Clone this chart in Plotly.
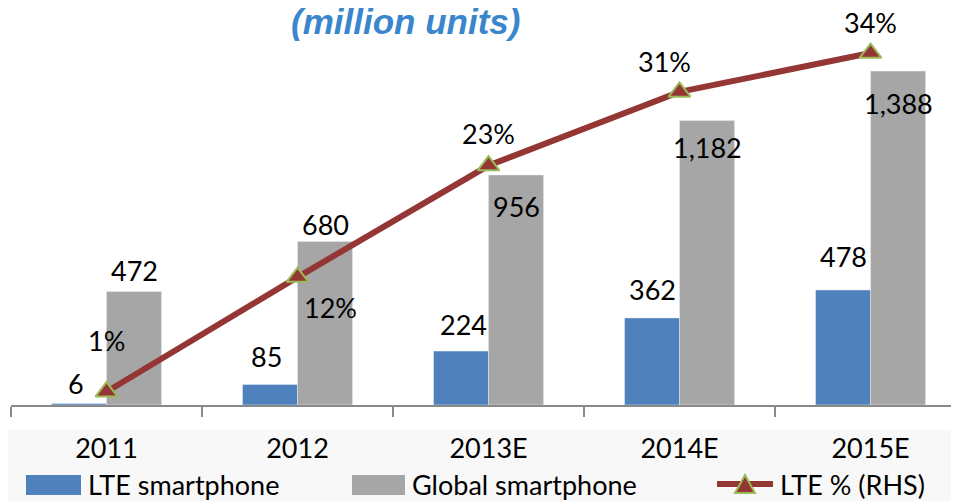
import plotly.graph_objects as go

years = ["2011", "2012", "2013E", "2014E", "2015E"]
lte_units = [6, 85, 224, 362, 478]
global_units = [472, 680, 956, 1182, 1388]
lte_share = [1.3, 12.5, 23.4, 30.6, 34.4]
lte_labels = ["6", "85", "224", "362", "478"]
global_labels = ["472", "680", "956", "1,182", "1,388"]
share_labels = ["1%", "12%", "23%", "31%", "34%"]

# label offsets in px (x, y) relative to the mark
lte_off = [(-4, 20), (-4, 28), (2, 27), (0, 28), (0, 33)]
glob_off = [(28, 21), (28, 17), (28, -32), (28, -27), (28, -32)]
share_off = [(0, 51), (33, -30), (0, 32), (-15, 30), (0, 31)]

BLUE = "#4f81bd"
GRAY = "#a6a6a6"
RED = "#943634"
GREEN = "#9bbb59"
FONT = "Lato, Carlito, Calibri, sans-serif"

# page body adds an 8px offset, so the figure is sized to the visible area
OFF = 8
W, H = 959 - OFF, 501 - OFF
ML, MB = 11 - OFF, 96
PW, PH = W - ML, H - MB


def px_x(x):
    return (x - OFF - ML) / PW


def px_y(y):
    return (PH - (y - OFF)) / PH


fig = go.Figure()
fig.add_trace(go.Bar(x=years, y=lte_units, name="LTE smartphone", marker_color=BLUE))
fig.add_trace(go.Bar(x=years, y=global_units, name="Global smartphone", marker_color=GRAY))
fig.add_trace(go.Scatter(
    x=years, y=lte_share, name="LTE % (RHS)", yaxis="y2", mode="lines+markers",
    line=dict(color=RED, width=6),
    marker=dict(symbol="triangle-up", size=19, color=RED, line=dict(color=GREEN, width=2)),
))

ann = []
for i, yr in enumerate(years):
    ann.append(dict(x=i, y=lte_units[i], text=lte_labels[i], showarrow=False,
                    yanchor="middle", xshift=-27 + lte_off[i][0], yshift=lte_off[i][1]))
    ann.append(dict(x=i, y=global_units[i], text=global_labels[i], showarrow=False,
                    yanchor="middle", xshift=glob_off[i][0], yshift=glob_off[i][1]))
    ann.append(dict(x=i, y=lte_share[i], yref="y2", text=share_labels[i], showarrow=False,
                    yanchor="middle", xshift=share_off[i][0], yshift=share_off[i][1]))

ann.append(dict(x=px_x(405), y=px_y(21), xref="paper", yref="paper",
                text="<b><i>(million units)</i></b>", showarrow=False, yanchor="middle",
                font=dict(family="Liberation Sans", size=35, color="#3a86cc")))

# legend
shapes = [
    dict(type="rect", xref="paper", yref="paper", x0=px_x(0), x1=px_x(959),
         y0=px_y(430), y1=px_y(501), fillcolor="#f8f8f8", line_width=0, layer="below"),
    dict(type="rect", xref="paper", yref="paper", x0=px_x(26), x1=px_x(81),
         y0=px_y(475), y1=px_y(495), fillcolor=BLUE, line_width=0),
    dict(type="rect", xref="paper", yref="paper", x0=px_x(352), x1=px_x(405),
         y0=px_y(475), y1=px_y(495), fillcolor=GRAY, line_width=0),
    dict(type="line", xref="paper", yref="paper", x0=px_x(717), x1=px_x(773),
         y0=px_y(484), y1=px_y(484), line=dict(color=RED, width=6)),
    dict(type="path", xref="paper", yref="paper",
         path=f"M {px_x(735)},{px_y(493)} L {px_x(755)},{px_y(493)} L {px_x(745)},{px_y(475)} Z",
         fillcolor=RED, line=dict(color=GREEN, width=2)),
]
for text, x in [("LTE smartphone", 86), ("Global smartphone", 410), ("LTE % (RHS)", 778)]:
    ann.append(dict(x=px_x(x), y=px_y(484), xref="paper", yref="paper", text=text,
                    showarrow=False, xanchor="left", yanchor="middle"))

fig.update_layout(
    width=W, height=H,
    margin=dict(l=ML, r=0, t=0, b=MB),
    paper_bgcolor="white", plot_bgcolor="white",
    font=dict(family=FONT, size=27, color="black"),
    barmode="group", bargap=0.424, bargroupgap=0,
    showlegend=False,
    xaxis=dict(range=[-0.5, 4.463], tickson="boundaries", ticks="outside", ticklen=10,
               tickwidth=2, tickcolor="#898989", showline=True, linecolor="#898989",
               linewidth=2, showgrid=False, ticklabelstandoff=19,
               tickfont=dict(family=FONT, size=27)),
    yaxis=dict(range=[0, 1650], visible=False),
    yaxis2=dict(range=[0, 38.8], overlaying="y", side="right", visible=False),
    annotations=ann,
    shapes=shapes,
)

fig.write_html("out.html")
